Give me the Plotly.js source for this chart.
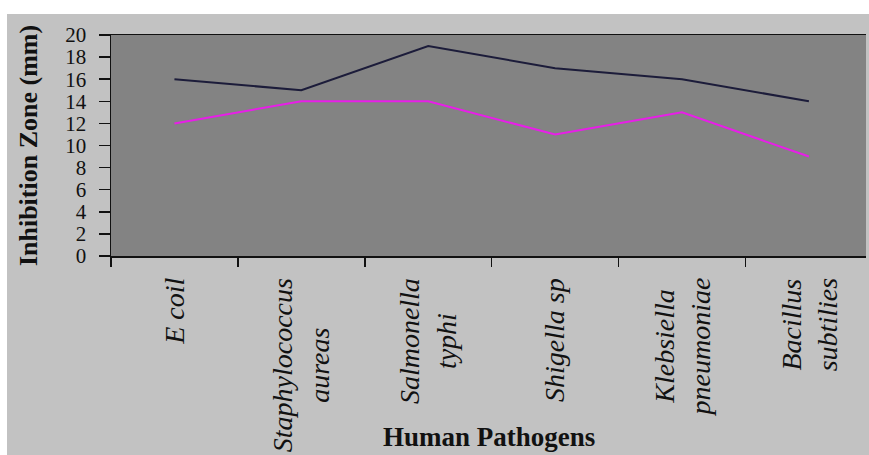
<!DOCTYPE html>
<html>
<head>
<meta charset="utf-8">
<script src="https://cdn.plot.ly/plotly-3.0.1.min.js"></script>
<style>
  html, body { margin: 0; padding: 0; background: #ffffff; }
  #chart { position: absolute; left: 7px; top: 14px; width: 862px; height: 441px; }
</style>
</head>
<body>
<div id="chart"></div>
<script>
// Data
var pathogens = ["E coil", "Staphylococcus aureas", "Salmonella typhi", "Shigella sp", "Klebsiella pneumoniae", "Bacillus subtilies"];
var tickLabels = ["E coil", "Staphylococcus<br>aureas", "Salmonella<br>typhi", "Shigella sp", "Klebsiella<br>pneumoniae", "Bacillus<br>subtilies"];
var seriesA = [16, 15, 19, 17, 16, 14];   // dark line
var seriesB = [12, 14, 14, 11, 13, 9];    // magenta line
var yTicks = [0, 2, 4, 6, 8, 10, 12, 14, 16, 18, 20];

var serif = "'Liberation Serif', 'Times New Roman', serif";

var traces = [
  { x: pathogens, y: seriesA, type: "scatter", mode: "lines", name: "A",
    line: { color: "#1c1c3a", width: 2 } },
  { x: pathogens, y: seriesB, type: "scatter", mode: "lines", name: "B",
    line: { color: "#e81ee8", width: 2 } }
];

var annotations = pathogens.map(function (p, i) {
  return {
    x: p, xref: "x", y: -0.09, yref: "paper",
    xanchor: "center", yanchor: "top",
    text: tickLabels[i], showarrow: false, textangle: -90, align: "center",
    font: { family: serif, size: 28, color: "#111111", style: "italic" }
  };
});
annotations.push({
  x: 0.5, xref: "paper", y: -0.82, yref: "paper",
  xanchor: "center", yanchor: "middle",
  text: "<b>Human Pathogens</b>", showarrow: false,
  font: { family: serif, size: 27, color: "#111111" }
});

var layout = {
  width: 862, height: 441,
  margin: { l: 104, r: 3, t: 21, b: 199 },
  paper_bgcolor: "#c2c2c2",
  plot_bgcolor: "#838383",
  showlegend: false,
  xaxis: {
    type: "category",
    categoryarray: pathogens,
    range: [-0.5, 5.45],
    showticklabels: false,
    tickson: "boundaries",
    ticks: "outside", ticklen: 9, tickwidth: 1.5, tickcolor: "#111111",
    showline: true, linecolor: "#111111", linewidth: 1.5, mirror: true,
    showgrid: false, zeroline: false, fixedrange: true
  },
  yaxis: {
    range: [0, 20],
    tickvals: yTicks,
    ticktext: yTicks.map(String),
    ticks: "outside", ticklen: 11, tickwidth: 1.5, tickcolor: "#111111",
    ticklabelstandoff: 8,
    tickfont: { family: serif, size: 21, color: "#111111" },
    showline: true, linecolor: "#111111", linewidth: 1.5,
    showgrid: false, zeroline: false, fixedrange: true,
    title: { text: "<b>Inhibition Zone (mm)</b>", standoff: 20,
             font: { family: serif, size: 26, color: "#111111" } }
  },
  annotations: annotations
};

Plotly.newPlot("chart", traces, layout, { staticPlot: true, displayModeBar: false });
</script>
</body>
</html>
